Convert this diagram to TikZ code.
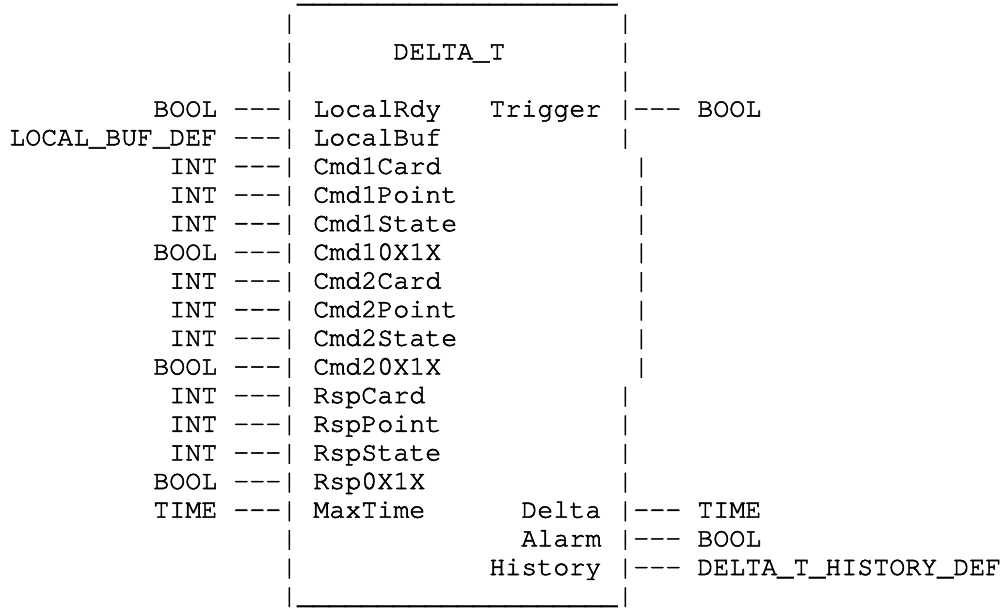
\documentclass[tikz,border=0pt]{standalone}
\usepackage{fontspec}
\setmonofont{texgyrecursor-regular.otf}[FakeBold=2]
\newcommand\usc{\_\_\_\_\_\_\_\_\_\_\_\_\_\_\_\_\_\_\_\_}
\newcommand\dsh{-{}-{}-}
\begin{document}
\begin{tikzpicture}[x=1pt,y=1pt,
  txt/.style={anchor=base west,inner sep=0pt,outer sep=0pt,
    font=\ttfamily\fontsize{26.667pt}{28.65pt}\selectfont}]
\fill[white] (0,0) rectangle (1002,-608);
\useasboundingbox (0,0) rectangle (1002,-608);
\foreach \r/\c/\t in {
  0/18/{\smash{\usc}},
  1/17/{|}, 1/38/{|},
  2/17/{|}, 2/24/{DELTA\_T}, 2/38/{|},
  3/17/{|}, 3/38/{|},
  4/9/{BOOL}, 4/14/{\dsh|}, 4/19/{LocalRdy}, 4/30/{Trigger}, 4/38/{|\dsh}, 4/43/{BOOL},
  5/0/{LOCAL\_BUF\_DEF}, 5/14/{\dsh|}, 5/19/{LocalBuf}, 5/38/{|},
  6/10/{INT}, 6/14/{\dsh|}, 6/19/{Cmd1Card}, 6/39/{|},
  7/10/{INT}, 7/14/{\dsh|}, 7/19/{Cmd1Point}, 7/39/{|},
  8/10/{INT}, 8/14/{\dsh|}, 8/19/{Cmd1State}, 8/39/{|},
  9/9/{BOOL}, 9/14/{\dsh|}, 9/19/{Cmd10X1X}, 9/39/{|},
  10/10/{INT}, 10/14/{\dsh|}, 10/19/{Cmd2Card}, 10/39/{|},
  11/10/{INT}, 11/14/{\dsh|}, 11/19/{Cmd2Point}, 11/39/{|},
  12/10/{INT}, 12/14/{\dsh|}, 12/19/{Cmd2State}, 12/39/{|},
  13/9/{BOOL}, 13/14/{\dsh|}, 13/19/{Cmd20X1X}, 13/39/{|},
  14/10/{INT}, 14/14/{\dsh|}, 14/19/{RspCard}, 14/38/{|},
  15/10/{INT}, 15/14/{\dsh|}, 15/19/{RspPoint}, 15/38/{|},
  16/10/{INT}, 16/14/{\dsh|}, 16/19/{RspState}, 16/38/{|},
  17/9/{BOOL}, 17/14/{\dsh|}, 17/19/{Rsp0X1X}, 17/38/{|},
  18/9/{TIME}, 18/14/{\dsh|}, 18/19/{MaxTime}, 18/32/{Delta}, 18/38/{|\dsh}, 18/43/{TIME},
  19/17/{|}, 19/32/{Alarm}, 19/38/{|\dsh}, 19/43/{BOOL},
  20/17/{|}, 20/30/{History}, 20/38/{|\dsh}, 20/43/{DELTA\_T\_HISTORY\_DEF},
  21/17/{|\usc|}}
  \node[txt] (r\r-\c) at ({9.3+\c*16},{-2-\r*28.65}) {\t};
\end{tikzpicture}
\end{document}
